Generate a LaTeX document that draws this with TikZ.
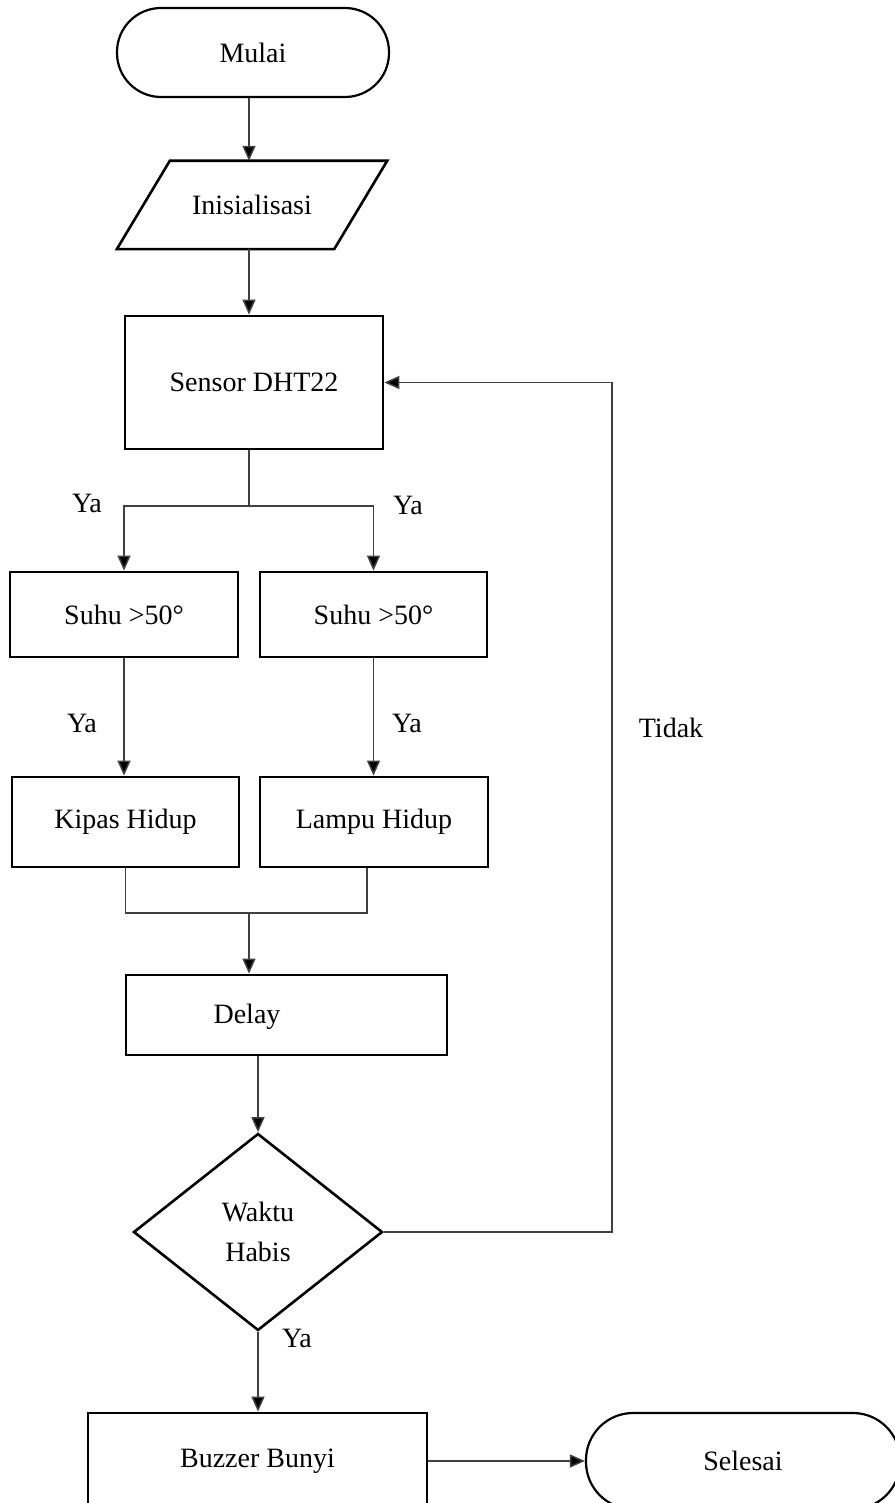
\documentclass[tikz,border=0pt]{standalone}
\usepackage{fontspec}
\setmainfont{Liberation Serif}
\usetikzlibrary{arrows.meta,shapes.geometric}
\begin{document}
\begin{tikzpicture}[x=1pt,y=-1pt,
  every node/.style={font=\fontsize{28}{40}\selectfont},
  box/.style={draw=black, line width=2.8pt, inner sep=0pt},
  term/.style={draw=black, line width=2.2pt, rounded corners=44pt, inner sep=0pt},
  shapeline/.style={draw=black, line width=2.6pt, line join=miter},
  conn/.style={draw=black!75, line width=1.5pt},
  arr/.style={conn, -{Triangle[length=15pt,width=13pt,fill=black]}},
  lbl/.style={inner sep=0pt}]
\useasboundingbox (0,0) rectangle (894,1503);

% nodes
\node[term, minimum width=272pt, minimum height=89pt] (mulai) at (253,52.5) {Mulai};
\node[inner sep=0pt, minimum width=217pt, minimum height=88pt] (init) at (252,205) {Inisialisasi};
\draw[shapeline] ([xshift=26.5pt]init.north west) -- ([xshift=26.5pt]init.north east)
  -- ([xshift=-26.5pt]init.south east) -- ([xshift=-26.5pt]init.south west) -- cycle;
\node[box, minimum width=258pt, minimum height=133pt] (sensor) at (254,382.5) {Sensor DHT22};
\node[box, minimum width=228pt, minimum height=85pt] (suhu1) at (124,614.5) {Suhu >50°};
\node[box, minimum width=227pt, minimum height=85pt] (suhu2) at (373.5,614.5) {Suhu >50°};
\node[box, minimum width=227pt, minimum height=90pt] (kipas) at (125.5,822) {Kipas Hidup};
\node[box, minimum width=228pt, minimum height=90pt] (lampu) at (374,822) {Lampu Hidup};
\node[box, minimum width=321pt, minimum height=80pt] (delay) at (286.5,1015) {};
\node[lbl] (delayt) at (247,1017) {Delay};
\node[draw=black, line width=2.6pt, diamond, inner sep=0pt, minimum width=249pt, minimum height=197pt, align=center] (dia) at (258,1232) {Waktu\\Habis};
\node[box, minimum width=339pt, minimum height=96pt] (buzzer) at (257.5,1461) {Buzzer Bunyi};
\node[term, rounded corners=47pt, minimum width=314pt, minimum height=96pt] (selesai) at (743,1461) {Selesai};

% labels
\node[lbl] (ya1) at (87,503) {Ya};
\node[lbl] (ya2) at (408,505) {Ya};
\node[lbl] (ya3) at (82,723) {Ya};
\node[lbl] (ya4) at (407,723) {Ya};
\node[lbl] (tidak) at (671,728) {Tidak};
\node[lbl] (ya5) at (297,1338) {Ya};

% connectors
\coordinate (ax) at (249,0);
\draw[arr] (mulai.south -| ax) -- (init.north -| ax);
\draw[arr] (init.south -| ax) -- (sensor.north -| ax);
\coordinate (j1) at (249,506);
\draw[conn] (sensor.south -| ax) -- (j1);
\draw[arr] (j1) -| (suhu1.north);
\draw[arr] (j1) -| (suhu2.north);
\draw[arr] (suhu1.south) -- (suhu1.south |- kipas.north);
\draw[arr] (suhu2.south) -- (suhu2.south |- lampu.north);
\coordinate (j2) at (249,913);
\draw[conn] (kipas.south) |- ([xshift=-7pt]lampu.south |- j2) -- ([xshift=-7pt]lampu.south);
\draw[arr] (j2) -- (j2 |- delay.north);
\coordinate (dx) at (258,0);
\draw[arr] (delay.south -| dx) -- (dia.north);
\coordinate (tk) at (612,0);
\draw[arr] (dia.east) -- (dia.east -| tk) |- (sensor.east);
\draw[arr] (dia.south) -- (dia.south |- buzzer.north);
\draw[arr] (buzzer.east) -- (selesai.west);
\end{tikzpicture}
\end{document}
